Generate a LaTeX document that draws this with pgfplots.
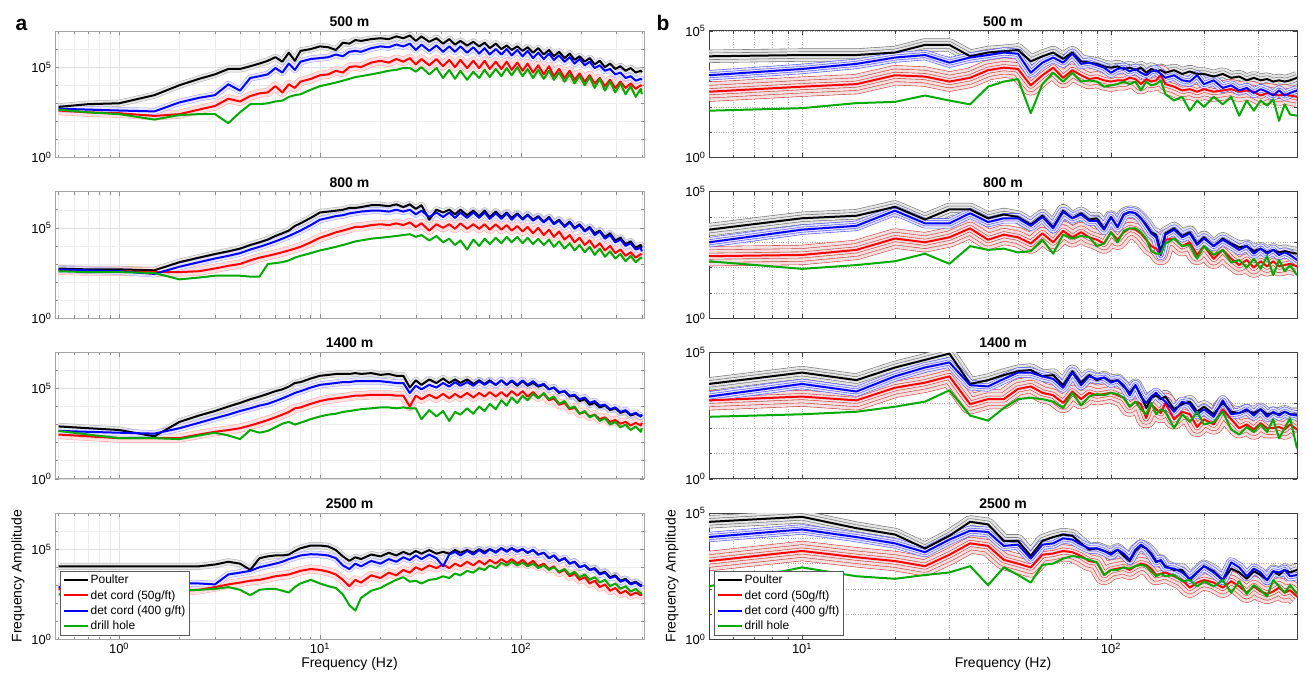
\documentclass[border=0pt]{standalone}
\usepackage{pgfplots}
\pgfplotsset{compat=1.18}
\usepackage{pgfplotstable}
\usepackage{fontspec}
\setmainfont{Liberation Sans}
\definecolor{mgreen}{RGB}{0,170,0}
\definecolor{tred}{RGB}{200,70,70}

\pgfplotstableread{
f k b r g
0.5 6.31e2 5.01e2 3.98e2 4.47e2
0.7 8.91e2 4.47e2 3.16e2 3.16e2
1 1e3 3.98e2 2.82e2 2.51e2
1.5 2.82e3 3.55e2 2e2 1.26e2
2 1e4 1.12e3 2.51e2 2.24e2
2.5 2.24e4 2e3 4.47e2 2.51e2
3 3.98e4 2.82e3 7.08e2 2.51e2
3.5 7.94e4 1.12e4 1.78e3 79.4
4 7.94e4 5.01e3 1.26e3 3.16e2
4.5 1.12e5 2.51e4 2.51e3 8.91e2
5 1.58e5 3.16e4 3.55e3 8.91e2
5.5 2.24e5 3.98e4 3.98e3 1e3
6 3.55e5 8.91e4 8.91e3 1.26e3
6.5 2e5 5.01e4 3.98e3 1.41e3
7 6.31e5 1.58e5 1.12e4 2.24e3
7.5 2.24e5 7.08e4 7.08e3 2.82e3
8 7.94e5 2e5 1.58e4 3.16e3
9 1e6 2.82e5 2.24e4 5.62e3
10 1.41e6 3.16e5 3.55e4 8.91e3
11 1.26e6 3.55e5 3.98e4 1.12e4
12 8.91e5 5.01e5 6.31e4 1.41e4
13 2.24e6 3.98e5 5.01e4 1.78e4
14 2e6 7.08e5 1e5 2.24e4
15 3.16e6 7.94e5 1.12e5 2.82e4
16 2.82e6 7.08e5 1e5 3.16e4
18 3.55e6 1.12e6 1.78e5 3.98e4
20 3.98e6 1.41e6 2.24e5 5.01e4
22 3.55e6 1.26e6 1.78e5 6.31e4
24 5.01e6 1.78e6 2.82e5 7.08e4
26 3.98e6 1.41e6 2e5 8.91e4
28 5.62e6 2e6 3.16e5 8.91e4
30 2.82e6 8.91e5 1.41e5 5.62e4
32 5.01e6 1.78e6 2.82e5 1e5
35 2.51e6 7.94e5 1.26e5 3.98e4
38 3.98e6 1.58e6 2.82e5 8.91e4
41 2e6 7.08e5 1.12e5 2.51e4
44 3.55e6 1.41e6 2.51e5 7.08e4
47 1.78e6 7.08e5 1e5 2.24e4
50 2.82e6 1.41e6 2.51e5 6.31e4
54 1.58e6 6.31e5 8.91e4 2e4
58 2.51e6 1.26e6 2.24e5 5.62e4
62 1.41e6 5.62e5 8.91e4 2.51e4
66 2.24e6 1.12e6 2.24e5 7.08e4
70 1.12e6 5.01e5 7.94e4 2.82e4
75 2e6 1e6 2e5 7.94e4
80 1e6 5.01e5 7.94e4 3.16e4
85 1.58e6 1e6 2e5 8.91e4
90 8.91e5 4.47e5 7.08e4 3.55e4
96 1.41e6 8.91e5 1.78e5 1e5
102 7.94e5 3.98e5 6.31e4 3.16e4
108 1.26e6 7.94e5 1.58e5 7.94e4
115 6.31e5 3.16e5 5.01e4 2.51e4
122 1.12e6 6.31e5 1.26e5 7.08e4
130 5.01e5 2.82e5 3.98e4 2.24e4
138 8.91e5 5.62e5 1.12e5 6.31e4
146 3.98e5 2.51e5 3.16e4 2e4
155 7.08e5 4.47e5 7.94e4 5.01e4
165 3.16e5 2e5 2.51e4 1.58e4
175 5.62e5 3.55e5 6.31e4 3.98e4
185 2.51e5 1.58e5 2e4 1.26e4
196 3.98e5 2.82e5 4.47e4 3.16e4
208 2e5 1.26e5 1.58e4 1e4
220 3.16e5 2e5 3.55e4 2.82e4
233 1.41e5 8.91e4 1.26e4 7.08e3
247 2.24e5 1.26e5 2.51e4 2.24e4
262 1e5 6.31e4 8.91e3 5.01e3
278 1.58e5 7.94e4 2e4 1.58e4
295 7.94e4 3.98e4 7.08e3 3.98e3
313 1.12e5 5.01e4 1.58e4 1.26e4
332 6.31e4 2.51e4 7.08e3 3.16e3
352 8.91e4 3.16e4 1.26e4 8.91e3
373 5.01e4 1.78e4 6.31e3 2.24e3
395 6.31e4 2.24e4 1e4 6.31e3
400 5.25e4 2e4 8.91e3 3.16e3
}\tAa

\pgfplotstableread{
f k b r g
0.5 5.62e2 5.01e2 4.47e2 3.98e2
0.7 5.01e2 4.47e2 3.98e2 3.55e2
1 5.01e2 3.98e2 3.98e2 3.55e2
1.5 4.47e2 2.82e2 3.55e2 3.16e2
2 1.26e3 7.08e2 3.55e2 1.41e2
2.5 2.24e3 1.26e3 3.98e2 1.78e2
3 3.55e3 2e3 5.62e2 2.24e2
3.5 5.01e3 2.82e3 7.94e2 2.24e2
4 7.08e3 3.98e3 1e3 2.24e2
4.5 1.12e4 6.31e3 1.58e3 2e2
5 1.58e4 8.91e3 2.24e3 2e2
5.5 2.24e4 1.26e4 2.82e3 1e3
6 3.55e4 1.78e4 3.55e3 1.12e3
6.5 5.01e4 2.51e4 4.47e3 1.26e3
7 7.08e4 3.55e4 5.62e3 1.58e3
7.5 1.26e5 5.01e4 7.08e3 2.24e3
8 1.78e5 7.08e4 8.91e3 2.82e3
9 3.55e5 1.41e5 1.58e4 3.98e3
10 7.08e5 2.82e5 2.82e4 5.62e3
11 7.94e5 3.55e5 3.98e4 7.08e3
12 8.91e5 4.47e5 5.62e4 8.91e3
13 1e6 5.01e5 7.08e4 1.12e4
14 1.26e6 6.31e5 8.91e4 1.41e4
15 1.26e6 7.08e5 1.12e5 1.78e4
16 1.41e6 7.94e5 1.12e5 2e4
18 1.78e6 8.91e5 1.41e5 2.51e4
20 1.78e6 8.91e5 1.58e5 2.82e4
22 1.58e6 7.94e5 1.41e5 3.16e4
24 2e6 1e6 1.78e5 3.55e4
26 1.41e6 7.94e5 1.41e5 3.98e4
28 2e6 1e6 2e5 4.47e4
30 1.12e6 5.62e5 1.12e5 3.16e4
32 1.78e6 8.91e5 1.78e5 3.98e4
35 2.82e5 3.98e5 7.08e4 2e4
38 1e6 7.08e5 1.58e5 3.55e4
41 7.08e5 3.98e5 1e5 1.58e4
44 1e6 7.08e5 1.58e5 2.51e4
47 5.62e5 3.55e5 8.91e4 1.12e4
50 1e6 7.08e5 1.78e5 2e4
54 5.01e5 3.55e5 8.91e4 6.31e3
58 8.91e5 7.08e5 1.58e5 2.24e4
62 4.47e5 3.55e5 8.91e4 1e4
66 8.91e5 7.08e5 1.58e5 2.51e4
70 3.98e5 3.16e5 7.94e4 1.26e4
75 7.94e5 6.31e5 1.58e5 2.82e4
80 3.98e5 3.16e5 7.94e4 1.41e4
85 7.08e5 6.31e5 1.41e5 3.16e4
90 3.55e5 2.82e5 7.08e4 1.58e4
96 6.31e5 5.62e5 1.26e5 3.16e4
102 3.16e5 2.82e5 6.31e4 1.41e4
108 5.62e5 5.01e5 1.12e5 2.82e4
115 2.82e5 2.51e5 5.01e4 1.26e4
122 4.47e5 3.98e5 1e5 2.51e4
130 2.24e5 2e5 3.98e4 1.12e4
138 3.98e5 3.55e5 7.94e4 2.24e4
146 1.78e5 1.58e5 3.16e4 8.91e3
155 2.82e5 2.51e5 6.31e4 1.78e4
165 1.26e5 1.12e5 2.24e4 7.08e3
175 2.24e5 2e5 3.98e4 1.41e4
185 1e5 8.91e4 1.58e4 5.62e3
196 1.58e5 1.41e5 2.82e4 1.12e4
208 7.08e4 6.31e4 1.12e4 4.47e3
220 1.12e5 1e5 2e4 8.91e3
233 5.01e4 3.98e4 7.94e3 3.16e3
247 7.08e4 6.31e4 1.41e4 7.08e3
262 3.16e4 2.51e4 5.62e3 2.51e3
278 5.01e4 3.98e4 1e4 5.01e3
295 2e4 1.58e4 3.98e3 2e3
313 2.82e4 2.24e4 6.31e3 3.55e3
332 1.26e4 1e4 2.82e3 1.41e3
352 1.78e4 1.41e4 4.47e3 2.82e3
373 7.94e3 6.31e3 2.24e3 1.26e3
395 1.12e4 7.94e3 3.55e3 2.24e3
400 7.94e3 5.01e3 3.16e3 2e3
}\tAb

\pgfplotstableread{
f k b r g
0.5 7.94e2 4.47e2 2.82e2 4.47e2
0.7 6.31e2 3.98e2 2.24e2 2.82e2
1 5.01e2 3.55e2 1.78e2 1.78e2
1.5 2.24e2 3.16e2 1.78e2 1.78e2
2 1.41e3 6.31e2 1.78e2 1.58e2
2.5 3.16e3 1.26e3 2.82e2 2.51e2
3 5.62e3 2.24e3 3.98e2 3.55e2
3.5 1e4 3.55e3 5.01e2 2.51e2
4 1.58e4 5.62e3 6.31e2 1.58e2
4.5 2.51e4 7.94e3 8.91e2 5.01e2
5 3.55e4 1.12e4 1.26e3 3.55e2
5.5 5.01e4 1.41e4 1.78e3 4.47e2
6 7.08e4 2e4 2.51e3 7.08e2
6.5 8.91e4 2.82e4 3.55e3 1.12e3
7 1.26e5 3.98e4 5.01e3 1.41e3
7.5 2e5 5.62e4 7.94e3 1e3
8 2.24e5 7.08e4 8.91e3 1.26e3
9 3.55e5 1.12e5 1.41e4 2e3
10 5.01e5 1.58e5 2e4 2.82e3
11 5.62e5 1.78e5 2.51e4 3.55e3
12 6.31e5 2e5 2.82e4 3.98e3
13 6.31e5 2.24e5 3.16e4 5.01e3
14 6.31e5 2.24e5 3.55e4 5.62e3
15 7.08e5 2.51e5 3.98e4 6.31e3
16 6.31e5 2.51e5 3.98e4 7.08e3
18 7.08e5 2.51e5 4.47e4 7.94e3
20 5.62e5 2.51e5 4.47e4 8.91e3
22 6.31e5 2.24e5 4.47e4 8.91e3
24 5.01e5 2e5 3.98e4 7.94e3
26 5.01e5 2e5 3.98e4 8.91e3
28 1.12e5 5.62e4 1e4 7.94e3
30 2.82e5 1.41e5 3.98e4 7.94e3
32 1.58e5 8.91e4 2.51e4 2e3
35 3.16e5 1.58e5 4.47e4 6.31e3
38 2e5 1.12e5 2.82e4 2.82e3
41 3.55e5 2e5 5.01e4 5.62e3
44 2e5 1.26e5 2.82e4 1.58e3
47 3.16e5 2.24e5 5.01e4 5.01e3
50 2e5 1.41e5 3.16e4 3.55e3
54 3.16e5 2.24e5 5.62e4 7.94e3
58 1.78e5 1.41e5 3.16e4 3.98e3
62 2.82e5 2.51e5 5.62e4 1e4
66 1.78e5 1.58e5 3.55e4 5.62e3
70 2.82e5 2.51e5 6.31e4 1.41e4
75 1.58e5 1.58e5 3.55e4 7.08e3
80 2.82e5 2.82e5 6.31e4 2.24e4
85 1.58e5 1.58e5 3.55e4 1.12e4
90 2.51e5 2.82e5 7.08e4 3.16e4
96 1.41e5 1.58e5 3.98e4 1.58e4
102 2.51e5 2.82e5 7.08e4 3.98e4
108 1.41e5 1.58e5 3.55e4 2.24e4
115 2e5 2.51e5 6.31e4 5.01e4
122 1.26e5 1.41e5 3.16e4 2.82e4
130 1.58e5 1.78e5 5.01e4 5.62e4
138 8.91e4 8.91e4 2.24e4 2.51e4
146 1.12e5 1.12e5 2.82e4 3.55e4
155 5.62e4 6.31e4 1.26e4 1.41e4
165 7.08e4 7.08e4 1.58e4 2e4
175 3.55e4 3.98e4 7.08e3 7.94e3
185 3.98e4 4.47e4 8.91e3 1e4
196 2e4 2.51e4 3.98e3 3.98e3
208 2.51e4 3.16e4 5.01e3 5.62e3
220 1.26e4 1.58e4 2.82e3 2.51e3
233 1.58e4 2e4 3.55e3 3.55e3
247 8.91e3 1.12e4 2e3 1.58e3
262 1.12e4 1.26e4 2.51e3 2.24e3
278 6.31e3 7.08e3 1.41e3 1e3
295 7.94e3 8.91e3 1.78e3 1.41e3
313 4.47e3 5.01e3 1.12e3 7.08e2
332 5.62e3 6.31e3 1.41e3 1e3
352 3.16e3 3.55e3 8.91e2 5.01e2
373 3.98e3 4.47e3 1.26e3 7.94e2
395 2.82e3 2.82e3 8.91e2 3.98e2
400 3.55e3 3.55e3 1.26e3 6.31e2
}\tAc

\pgfplotstableread{
f k b r g
0.5 1.12e4 7.94e2 6.31e2 3.16e2
0.7 1.12e4 7.94e2 6.31e2 3.55e2
1 1.12e4 8.91e2 6.31e2 3.98e2
1.5 1.12e4 1e3 5.62e2 4.47e2
2 1.12e4 1.26e3 5.01e2 5.01e2
2.5 1.12e4 1.26e3 5.62e2 5.62e2
3 1.41e4 1.12e3 7.94e2 6.31e2
3.5 2e4 3.98e3 1.12e3 7.94e2
4 1.58e4 5.01e3 1.41e3 5.62e2
4.5 7.08e3 6.31e3 1.78e3 2.82e2
5 3.16e4 1e4 2e3 5.62e2
5.5 3.98e4 1.26e4 2.51e3 6.31e2
6 4.47e4 1.58e4 3.16e3 6.31e2
6.5 4.47e4 2e4 3.55e3 5.01e2
7 5.01e4 2.82e4 3.98e3 3.98e2
7.5 7.94e4 3.55e4 5.01e3 7.94e2
8 1.12e5 4.47e4 6.31e3 1.26e3
9 1.58e5 5.25e4 7.94e3 2e3
10 1.58e5 5.01e4 7.08e3 1.26e3
11 1.41e5 4.47e4 5.62e3 8.91e2
12 8.91e4 3.16e4 3.98e3 7.08e2
13 3.98e4 1.26e4 2e3 3.16e2
14 2.24e4 7.94e3 8.91e2 79.4
15 3.55e4 1.58e4 2e3 39.8
16 2.82e4 1.12e4 1.41e3 2e2
18 5.01e4 2.24e4 3.55e3 5.01e2
20 3.98e4 1.58e4 2.51e3 7.08e2
22 6.31e4 2.82e4 5.01e3 1.26e3
24 4.47e4 2e4 3.55e3 2e3
26 7.08e4 3.55e4 7.08e3 2.82e3
28 5.01e4 2.51e4 5.01e3 1.58e3
30 7.94e4 4.47e4 1e4 1.78e3
32 5.62e4 2.82e4 7.08e3 1.26e3
35 8.91e4 5.01e4 1.26e4 2e3
38 5.62e4 3.16e4 8.91e3 2.24e3
41 7.08e4 1.12e4 1.41e4 3.16e3
44 5.62e4 5.01e4 8.91e3 2.51e3
47 8.91e4 7.08e4 1.58e4 4.47e3
50 6.31e4 4.47e4 1.12e4 3.55e3
54 8.91e4 7.94e4 2e4 6.31e3
58 6.31e4 5.01e4 1.26e4 5.01e3
62 1e5 8.91e4 2.24e4 8.91e3
66 7.08e4 5.62e4 1.41e4 7.08e3
70 1e5 1e5 2.51e4 1.26e4
75 7.08e4 6.31e4 1.58e4 8.91e3
80 1.12e5 1.12e5 2.82e4 1.78e4
85 7.94e4 7.08e4 1.78e4 1.26e4
90 1.12e5 1.12e5 2.82e4 2e4
96 7.94e4 7.08e4 1.58e4 1.26e4
102 1e5 1e5 2.51e4 1.78e4
108 6.31e4 6.31e4 1.41e4 1.12e4
115 8.91e4 8.91e4 2.24e4 1.58e4
122 5.01e4 5.01e4 1.12e4 8.91e3
130 6.31e4 6.31e4 1.58e4 1.26e4
138 3.16e4 3.16e4 7.94e3 7.08e3
146 4.47e4 4.47e4 1.12e4 1e4
155 2.24e4 2.24e4 5.01e3 5.62e3
165 3.16e4 3.16e4 7.08e3 7.94e3
175 1.58e4 1.58e4 3.16e3 3.98e3
185 2e4 2e4 4.47e3 5.62e3
196 1e4 1e4 2e3 2.82e3
208 1.26e4 1.26e4 2.82e3 3.98e3
220 7.08e3 7.08e3 1.26e3 2e3
233 8.91e3 7.94e3 1.78e3 2.82e3
247 4.47e3 3.98e3 7.94e2 1.41e3
262 5.62e3 5.01e3 1.12e3 2e3
278 2.82e3 2.51e3 5.01e2 8.91e2
295 3.55e3 3.16e3 7.08e2 1.26e3
313 1.78e3 1.58e3 3.55e2 6.31e2
332 2.24e3 2e3 5.01e2 8.91e2
352 1.26e3 1.12e3 2.82e2 4.47e2
373 1.58e3 1.41e3 3.98e2 6.31e2
395 1e3 8.91e2 2.82e2 3.55e2
400 1.12e3 1e3 3.16e2 3.98e2
}\tAd

\pgfplotstableread{
f k b r g
5 1e4 1.78e3 3.98e2 70.8
10 1.12e4 3.16e3 6.31e2 89.1
15 1.12e4 5.01e3 7.94e2 1.41e2
20 1.41e4 8.91e3 1.78e3 1.58e2
25 2.82e4 1.12e4 1.58e3 2.82e2
30 2.82e4 5.62e3 1e3 1.78e2
35 1e4 8.91e3 1.41e3 1.26e2
40 1.41e4 1.12e4 2.82e3 6.31e2
45 1.58e4 1.41e4 3.55e3 1e3
50 1.78e4 1.26e4 3.16e3 1.26e3
55 6.31e3 2.24e3 7.08e2 56.2
60 1e4 5.62e3 1.78e3 7.94e2
65 1.41e4 8.91e3 3.55e3 2.24e3
70 7.94e3 5.62e3 1.41e3 1e3
75 1.41e4 1.26e4 2.82e3 2.24e3
80 6.31e3 5.01e3 1.78e3 1e3
85 5.62e3 5.62e3 1.26e3 1.12e3
90 5.01e3 4.47e3 1.41e3 1e3
95 3.98e3 3.55e3 1.12e3 6.31e2
100 3.55e3 2.24e3 1e3 7.08e2
105 3.98e3 3.16e3 1.12e3 7.94e2
110 3.16e3 3.55e3 1.12e3 1e3
115 3.55e3 2.51e3 1.41e3 7.94e2
120 2.82e3 3.16e3 1.26e3 1e3
125 3.55e3 2.24e3 7.94e2 4.47e2
130 2.24e3 1.78e3 1.26e3 1e3
135 3.16e3 2.51e3 1e3 7.08e2
140 2.51e3 2.82e3 1.12e3 7.94e2
145 2.82e3 2e3 1.78e3 1.12e3
150 2.24e3 1.41e3 7.94e2 3.16e2
160 2.82e3 1.78e3 6.31e2 1.78e2
170 2e3 1.12e3 4.47e2 2.51e2
180 2.51e3 1e3 5.01e2 70.8
190 2e3 1.78e3 3.98e2 1.78e2
200 2e3 7.94e2 5.01e2 1e2
215 1.58e3 1.12e3 3.98e2 2.51e2
230 2e3 5.62e2 4.47e2 1.26e2
245 1.41e3 7.08e2 5.01e2 2.51e2
260 1.58e3 4.47e2 3.98e2 44.7
275 1.12e3 5.62e2 4.47e2 1.78e2
290 1.41e3 3.55e2 3.98e2 70.8
305 1.12e3 5.01e2 2.82e2 1.78e2
320 1.26e3 3.98e2 3.55e2 1.12e2
335 1e3 2.82e2 3.16e2 2e2
350 1.12e3 4.47e2 2.82e2 28.2
365 1e3 2.82e2 3.16e2 1.26e2
380 1.12e3 3.55e2 2.82e2 50.1
400 1.41e3 4.47e2 2.51e2 44.7
}\tBa

\pgfplotstableread{
f k b r g
5 3.16e3 1e3 2.82e2 1.78e2
10 8.91e3 3.16e3 3.16e2 89.1
15 1.12e4 4.47e3 5.01e2 1.26e2
20 2.51e4 1.78e4 1.41e3 1.78e2
25 7.94e3 5.62e3 1e3 3.55e2
30 2e4 5.62e3 1.58e3 1.41e2
35 2e4 1.41e4 3.55e3 7.08e2
40 8.91e3 6.31e3 1.26e3 5.01e2
45 1.26e4 8.91e3 2e3 5.62e2
50 1e4 8.91e3 1.58e3 3.98e2
55 5.01e3 4.47e3 8.91e2 4.47e2
60 1.12e4 1e4 2.24e3 1.26e3
65 3.98e3 3.55e3 1e3 3.55e2
70 1.78e4 1.58e4 2.82e3 2e3
75 8.91e3 8.91e3 1.58e3 1.41e3
80 1.41e4 1.26e4 2.51e3 1.78e3
85 7.94e3 7.08e3 1.58e3 1.58e3
90 8.91e3 7.08e3 1.26e3 7.08e2
95 3.55e3 3.16e3 8.91e2 8.91e2
100 1e4 1e4 2.51e3 2.51e3
105 3.98e3 3.98e3 1.26e3 1e3
110 1.26e4 1.26e4 2.51e3 2.82e3
115 1.58e4 1.58e4 3.55e3 3.55e3
120 1.41e4 1.41e4 3.16e3 3.55e3
125 8.91e3 8.91e3 2.24e3 2.51e3
130 5.01e3 4.47e3 1.26e3 1.41e3
135 2.51e3 2.24e3 7.08e2 4.47e2
140 2e3 1.58e3 5.62e2 3.55e2
145 4.47e2 3.16e2 3.16e2 3.55e2
150 2.24e3 2e3 1.26e3 8.91e2
160 3.55e3 3.16e3 1.41e3 1.41e3
170 1.78e3 1.58e3 7.08e2 7.08e2
180 2.51e3 2.24e3 1e3 7.94e2
190 8.91e2 7.94e2 3.16e2 2.24e2
200 1.58e3 1.41e3 7.08e2 7.08e2
215 7.08e2 7.08e2 2.24e2 3.16e2
230 1.41e3 1.26e3 5.01e2 5.01e2
245 8.91e2 7.94e2 2.24e2 1.58e2
260 6.31e2 5.01e2 1.26e2 2e2
275 7.08e2 7.08e2 2e2 1e2
290 4.47e2 3.55e2 1e2 2.24e2
305 5.62e2 5.62e2 1.78e2 89.1
320 3.98e2 3.55e2 1.12e2 2.82e2
335 5.01e2 5.01e2 1.78e2 50.1
350 3.98e2 3.16e2 1.12e2 2e2
365 4.47e2 3.98e2 1.26e2 70.8
380 3.98e2 3.16e2 1.41e2 1.26e2
400 3.55e2 2e2 1.12e2 50.1
}\tBb

\pgfplotstableread{
f k b r g
5 5.62e3 1.78e3 1.26e3 2.82e2
10 1.58e4 5.62e3 1.78e3 3.55e2
15 7.94e3 2.82e3 1.26e3 4.47e2
20 2.51e4 1.12e4 3.98e3 7.08e2
25 5.01e4 2.51e4 6.31e3 1.12e3
30 8.91e4 3.98e4 1.12e4 3.16e3
35 5.62e3 5.01e3 8.91e2 3.16e2
40 7.94e3 4.47e3 1.41e3 2e2
45 1.26e4 8.91e3 1.41e3 6.31e2
50 1.78e4 1.58e4 3.55e3 1.41e3
55 2e4 1.58e4 4.47e3 1.58e3
60 1.12e4 1.12e4 2.51e3 1.41e3
65 1.26e4 8.91e3 2e3 1.12e3
70 5.01e3 3.98e3 1e3 6.31e2
75 1.78e4 1.58e4 2.82e3 2.51e3
80 6.31e3 5.01e3 1.41e3 7.94e2
85 1.26e4 1.12e4 2.51e3 1.78e3
90 7.94e3 8.91e3 2e3 2.24e3
95 1e4 1e4 2.24e3 2e3
100 7.08e3 6.31e3 2.51e3 2.51e3
105 7.94e3 7.94e3 2e3 2.24e3
110 4.47e3 5.01e3 1.58e3 1.58e3
115 2.51e3 2e3 7.08e2 7.08e2
120 5.01e3 5.01e3 1.12e3 1.12e3
125 2e3 1.78e3 8.91e2 5.62e2
130 6.31e2 1e3 2.51e2 3.55e2
135 1.58e3 1.78e3 8.91e2 1e3
140 2e3 2.51e3 5.62e2 3.55e2
145 1.41e3 1.58e3 3.98e2 5.62e2
150 1.78e3 1.12e3 1e3 4.47e2
160 5.62e2 4.47e2 2.24e2 1e2
170 8.91e2 1.12e3 4.47e2 3.55e2
180 1.12e3 8.91e2 3.55e2 1.78e2
190 4.47e2 3.55e2 1.12e2 4.47e2
200 7.08e2 5.62e2 2.24e2 1.41e2
215 3.55e2 2.82e2 1.41e2 1.78e2
230 1e3 1.26e3 5.62e2 4.47e2
245 4.47e2 3.55e2 2.24e2 89.1
260 3.98e2 3.98e2 1e2 56.2
275 5.01e2 5.62e2 1.41e2 1.12e2
290 3.98e2 3.16e2 89.1 70.8
305 5.62e2 5.62e2 1.58e2 1.41e2
320 3.55e2 2.82e2 1e2 70.8
335 3.98e2 4.47e2 1e2 2.24e2
350 3.55e2 3.16e2 1.12e2 39.8
365 4.47e2 4.47e2 89.1 1e2
380 3.55e2 3.55e2 1.41e2 2.51e2
400 3.55e2 3.16e2 89.1 15.8
}\tBc

\pgfplotstableread{
f k b r g
5 4.47e4 1.12e4 1.26e3 1.26e2
10 7.08e4 2.24e4 3.16e3 7.08e2
15 2.51e4 1.12e4 1.78e3 3.16e2
20 1.41e4 6.31e3 1.26e3 2.51e2
25 3.98e3 2.82e3 7.94e2 3.55e2
30 1.26e4 8.91e3 2.24e3 4.47e2
35 4.47e4 2e4 6.31e3 7.94e2
40 3.55e4 1.78e4 5.01e3 1.41e2
45 7.94e3 5.01e3 1.41e3 7.08e2
50 7.94e3 5.62e3 1e3 3.55e2
55 2e3 1.58e3 7.08e2 1.78e2
60 7.94e3 5.62e3 2.24e3 8.91e2
65 1.12e4 6.31e3 2.51e3 1e3
70 1.41e4 1e4 3.16e3 1.58e3
75 1.26e4 8.91e3 2.82e3 2e3
80 6.31e3 5.62e3 2e3 1.78e3
85 3.55e3 3.98e3 1.26e3 1.41e3
90 3.98e3 3.98e3 1.12e3 1.12e3
95 3.16e3 3.16e3 3.55e2 3.55e2
100 2.51e3 2.24e3 5.62e2 5.62e2
105 3.55e3 3.55e3 6.31e2 5.62e2
110 2e3 2.51e3 7.08e2 7.08e2
115 1.26e3 1.41e3 5.62e2 6.31e2
120 3.16e3 3.55e3 7.94e2 7.94e2
125 5.01e3 5.62e3 1e3 8.91e2
130 3.98e3 3.98e3 8.91e2 7.94e2
135 2.51e3 2.24e3 6.31e2 5.01e2
140 1.26e3 1.12e3 3.55e2 3.16e2
145 1.26e3 1.41e3 3.98e2 3.98e2
150 7.94e2 7.08e2 4.47e2 3.16e2
160 5.62e2 6.31e2 3.16e2 3.55e2
170 5.62e2 4.47e2 2.24e2 2e2
180 2.24e2 2.51e2 1.12e2 2.24e2
190 4.47e2 4.47e2 1.78e2 1.26e2
200 7.94e2 7.94e2 2.24e2 2e2
215 5.01e2 4.47e2 1.78e2 1.26e2
230 2.24e2 2.24e2 1.12e2 2.24e2
245 6.31e2 1.12e3 2e2 70.8
260 4.47e2 7.08e2 1.26e2 2e2
275 2.51e2 3.16e2 70.8 63.1
290 5.01e2 6.31e2 1.26e2 1.41e2
305 3.55e2 4.47e2 79.4 89.1
320 2.24e2 2.24e2 63.1 50.1
335 5.01e2 5.01e2 79.4 2.24e2
350 3.55e2 4.47e2 1.12e2 1.26e2
365 5.62e2 5.62e2 70.8 70.8
380 4.47e2 3.16e2 89.1 1.41e2
400 5.62e2 3.55e2 50.1 63.1
}\tBd

\pgfplotsset{
  myBase/.style={
    scale only axis, ymin=1,
    tick label style={font=\fontsize{13}{13}\selectfont},
    title style={font=\bfseries\fontsize{14}{14}\selectfont, at={(0.5,1)}, anchor=south, yshift=-4pt, inner sep=2pt},
    label style={font=\fontsize{14}{15}\selectfont},
    legend style={at={(0.009,0.03)}, anchor=south west, font=\fontsize{12}{14}\selectfont,
      draw=black!65, line width=0.7pt, inner xsep=2pt, inner ysep=2pt, row sep=1.2pt},
    legend cell align=left,
    xlabel style={yshift=3pt},
  },
  myPA/.style={myBase, width=589pt, height=126.5pt,
    xmin=0.48, xmax=410, ymax=1e7,
    xtick={1,10,100}, xticklabels={},
    minor xtick={0.5,0.6,0.7,0.8,0.9,2,3,4,5,6,7,8,9,20,30,40,50,60,70,80,90,200,300,400},
    ytick={1,1e5}, yticklabels={10\textsuperscript{0},10\textsuperscript{5}},
    minor ytick={10,100,1e3,1e4,1e6},
    grid=both, major grid style={black!12, line width=0.5pt}, minor grid style={black!7, line width=0.5pt},
    axis line style={black!35, line width=0.8pt}, tick style={black!45, line width=0.6pt},
  },
  myPB/.style={myBase, width=588pt, height=126.5pt,
    xmin=5, xmax=400, ymax=1e5,
    xtick={10,100}, xticklabels={},
    minor xtick={6,7,8,9,20,30,40,50,60,70,80,90,200,300,400},
    ytick={1,1e5}, yticklabels={10\textsuperscript{0},10\textsuperscript{5}},
    minor ytick={10,100,1e3,1e4},
    grid=both, major grid style={black!30, dotted, line width=0.5pt}, minor grid style={black!30, dotted, line width=0.5pt},
    axis line style={black!75, line width=1pt}, tick style={black!75, line width=0.6pt},
  },
  legend image code/.code={\draw[#1, line width=2pt] (0pt,0pt) -- (24pt,0pt);},
}
\tikzset{myMain/.style={line width=2pt, line join=round}}

\newcommand{\drawA}[1]{%
  \addplot[forget plot, black!30, line width=0.5pt, double=black!10, double distance=6pt, line join=round] table[x=f,y=k]{#1};
  \addplot[forget plot, red!35, line width=0.5pt, double=red!12, double distance=8pt, line join=round] table[x=f,y=r]{#1};
  \addplot[forget plot, blue!35, line width=0.5pt, double=blue!10, double distance=6pt, line join=round] table[x=f,y=b]{#1};
  \addplot[myMain, black] table[x=f,y=k]{#1};
  \addplot[myMain, red] table[x=f,y=r]{#1};
  \addplot[myMain, blue] table[x=f,y=b]{#1};
  \addplot[myMain, mgreen] table[x=f,y=g]{#1};
}
\newcommand{\drawB}[1]{%
  \addplot[forget plot, black!55, line width=0.6pt, double=black!10, double distance=12pt, line join=round] table[x=f,y=k]{#1};
  \addplot[forget plot, black!55, line width=0.6pt, double=black!10, double distance=6pt, line join=round] table[x=f,y=k]{#1};
  \addplot[forget plot, tred, line width=0.6pt, double=tred!18, double distance=19pt, line join=round] table[x=f,y=r]{#1};
  \addplot[forget plot, tred, line width=0.6pt, double=tred!18, double distance=12pt, line join=round] table[x=f,y=r]{#1};
  \addplot[forget plot, tred, line width=0.6pt, double=tred!18, double distance=5.5pt, line join=round] table[x=f,y=r]{#1};
  \addplot[forget plot, blue!65, line width=0.6pt, double=blue!10, double distance=9pt, line join=round] table[x=f,y=b]{#1};
  \addplot[forget plot, blue!65, line width=0.6pt, double=blue!10, double distance=4.5pt, line join=round] table[x=f,y=b]{#1};
  \addplot[myMain, black] table[x=f,y=k]{#1};
  \addplot[myMain, red] table[x=f,y=r]{#1};
  \addplot[myMain, blue] table[x=f,y=b]{#1};
  \addplot[myMain, mgreen] table[x=f,y=g]{#1};
}

\begin{document}
\begin{tikzpicture}[x=1pt,y=1pt]
\path[use as bounding box] (0,0) rectangle (1306,-692);
\node[anchor=base west, font=\bfseries\fontsize{21}{21}\selectfont] at (12,-31) {a};
\node[anchor=base west, font=\bfseries\fontsize{21}{21}\selectfont] at (653,-31) {b};

\begin{loglogaxis}[myPA, at={(55pt,-31pt)}, anchor=north west, title={500 m}]
\drawA{\tAa}
\end{loglogaxis}
\begin{loglogaxis}[myPA, at={(55pt,-191.7pt)}, anchor=north west, title={800 m}]
\drawA{\tAb}
\end{loglogaxis}
\begin{loglogaxis}[myPA, at={(55pt,-352.3pt)}, anchor=north west, title={1400 m}]
\drawA{\tAc}
\end{loglogaxis}
\begin{loglogaxis}[myPA, at={(55pt,-513pt)}, anchor=north west, title={2500 m},
  xticklabels={10\textsuperscript{0},10\textsuperscript{1},10\textsuperscript{2}},
  xlabel={Frequency (Hz)}, ylabel={Frequency Amplitude}]
\drawA{\tAd}
\legend{Poulter, det cord (50g/ft), det cord (400 g/ft), drill hole}
\end{loglogaxis}

\begin{loglogaxis}[myPB, at={(709pt,-31pt)}, anchor=north west, title={500 m}]
\drawB{\tBa}
\end{loglogaxis}
\begin{loglogaxis}[myPB, at={(709pt,-191.7pt)}, anchor=north west, title={800 m}]
\drawB{\tBb}
\end{loglogaxis}
\begin{loglogaxis}[myPB, at={(709pt,-352.3pt)}, anchor=north west, title={1400 m}]
\drawB{\tBc}
\end{loglogaxis}
\begin{loglogaxis}[myPB, at={(709pt,-513pt)}, anchor=north west, title={2500 m},
  xticklabels={10\textsuperscript{1},10\textsuperscript{2}},
  xlabel={Frequency (Hz)}, ylabel={Frequency Amplitude}]
\drawB{\tBd}
\legend{Poulter, det cord (50g/ft), det cord (400 g/ft), drill hole}
\end{loglogaxis}
\end{tikzpicture}
\end{document}
